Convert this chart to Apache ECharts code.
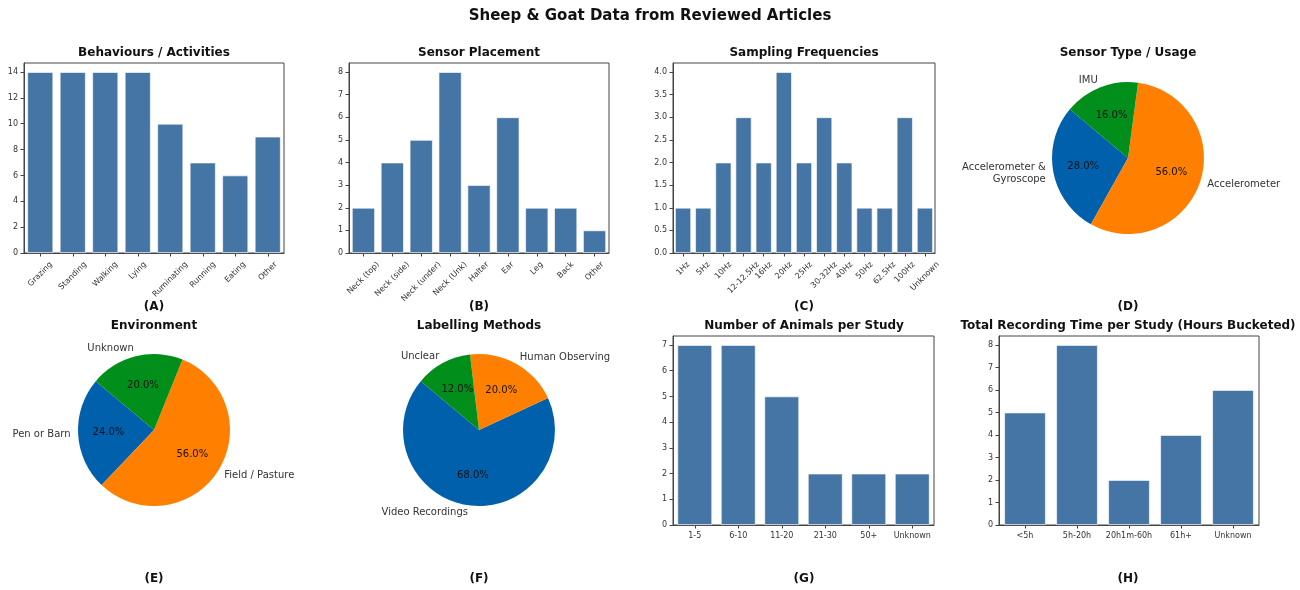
<!DOCTYPE html>
<html>
<head>
<meta charset="utf-8">
<title>Sheep &amp; Goat Data from Reviewed Articles</title>
<script src="https://cdn.jsdelivr.net/npm/echarts@6/dist/echarts.min.js"></script>
<style>
  html, body { margin: 0; padding: 0; background: #fff; }
  #chart { width: 1300px; height: 590px; }
</style>
</head>
<body>
<div id="chart"></div>
<script>
// ---- data ----
const behaviourCats = ['Grazing', 'Standing', 'Walking', 'Lying', 'Ruminating', 'Running', 'Eating', 'Other'];
const behaviourVals = [14, 14, 14, 14, 10, 7, 6, 9];
const behaviourTicks = [0, 2, 4, 6, 8, 10, 12, 14];

const placementCats = ['Neck (top)', 'Neck (side)', 'Neck (under)', 'Neck (Unk)', 'Halter', 'Ear', 'Leg', 'Back', 'Other'];
const placementVals = [2, 4, 5, 8, 3, 6, 2, 2, 1];
const placementTicks = [0, 1, 2, 3, 4, 5, 6, 7, 8];

const freqCats = ['1Hz', '5Hz', '10Hz', '12-12.5Hz', '16Hz', '20Hz', '25Hz', '30-32Hz', '40Hz', '50Hz', '62.5Hz', '100Hz', 'Unknown'];
const freqVals = [1, 1, 2, 3, 2, 4, 2, 3, 2, 1, 1, 3, 1];
const freqTicks = [0, 0.5, 1, 1.5, 2, 2.5, 3, 3.5, 4];

const sensorNames = ['Accelerometer &\nGyroscope', 'Accelerometer', 'IMU'];
const sensorVals = [7, 14, 4];

const envNames = ['Pen or Barn', 'Field / Pasture', 'Unknown'];
const envVals = [6, 14, 5];

const labelNames = ['Video Recordings', 'Human Observing', 'Unclear'];
const labelVals = [17, 5, 3];

const animalCats = ['1-5', '6-10', '11-20', '21-30', '50+', 'Unknown'];
const animalVals = [7, 7, 5, 2, 2, 2];
const animalTicks = [0, 1, 2, 3, 4, 5, 6, 7];

const timeCats = ['<5h', '5h-20h', '20h1m-60h', '61h+', 'Unknown'];
const timeVals = [5, 8, 2, 4, 6];
const timeTicks = [0, 1, 2, 3, 4, 5, 6, 7, 8];

// ---- styles ----
const FONT = 'DejaVu Sans';
const TICK_FONT_SIZE = 8;
const BAR = '#4575a5';
const PIE_COLORS = ['#0060ac', '#ff8000', '#018e1a'];
const AXIS_COLOR = '#444';
const TICK_TEXT = '#333';
const LABEL_GAP = 7;

const chart = echarts.init(document.getElementById('chart'), null, { renderer: 'canvas' });

// bar panels: grid box in px
const barPanels = [
  { cats: behaviourCats, vals: behaviourVals, ticks: behaviourTicks, max: 14.7, box: [24, 63, 284, 253], rotate: 45, dec: 0 },
  { cats: placementCats, vals: placementVals, ticks: placementTicks, max: 8.4, box: [349, 63, 609, 253], rotate: 45, dec: 0 },
  { cats: freqCats, vals: freqVals, ticks: freqTicks, max: 4.2, box: [673, 63, 935, 253], rotate: 45, dec: 1 },
  { cats: animalCats, vals: animalVals, ticks: animalTicks, max: 7.35, box: [673, 336, 934, 525], rotate: 0, dec: 0 },
  { cats: timeCats, vals: timeVals, ticks: timeTicks, max: 8.4, box: [999, 336, 1259, 525], rotate: 0, dec: 0 }
];

const grids = [], xAxes = [], yAxes = [], series = [];
barPanels.forEach((p, i) => {
  const [x1, y1, x2, y2] = p.box;
  const rotated = p.rotate !== 0;
  grids.push({
    left: x1, top: y1, width: x2 - x1, height: y2 - y1,
    outerBoundsMode: 'none', containLabel: false,
    show: true, borderColor: AXIS_COLOR, borderWidth: 1, backgroundColor: 'transparent'
  });
  xAxes.push({
    type: 'category', gridIndex: i, data: p.cats, boundaryGap: true,
    axisLine: { show: true, lineStyle: { color: AXIS_COLOR, width: 1 } },
    axisTick: { show: true, alignWithLabel: true, length: 3.5, lineStyle: { color: AXIS_COLOR } },
    // rotated labels are drawn separately (centred under each tick)
    axisLabel: { show: !rotated, interval: 0, fontFamily: FONT, fontSize: TICK_FONT_SIZE, color: TICK_TEXT, margin: LABEL_GAP },
    splitLine: { show: false }
  });
  yAxes.push({
    type: 'value', gridIndex: i, min: 0, max: p.max,
    axisLine: { show: true, lineStyle: { color: AXIS_COLOR, width: 1 } },
    axisTick: { show: true, length: 3.5, lineStyle: { color: AXIS_COLOR }, customValues: p.ticks },
    axisLabel: {
      fontFamily: FONT, fontSize: TICK_FONT_SIZE, color: TICK_TEXT, margin: 6,
      customValues: p.ticks,
      formatter: v => Number(v).toFixed(p.dec)
    },
    splitLine: { show: false }
  });
  series.push({
    type: 'bar', xAxisIndex: i, yAxisIndex: i, data: p.vals,
    barCategoryGap: '20%', silent: true,
    itemStyle: { color: BAR, borderColor: 'rgba(255,255,255,0.8)', borderWidth: 0.8 }
  });
});

// pie panels
const R = 76;
const piePanels = [
  { names: sensorNames, vals: sensorVals, center: [1128, 158] },
  { names: envNames, vals: envVals, center: [154, 430] },
  { names: labelNames, vals: labelVals, center: [479, 430] }
];

piePanels.forEach(p => {
  const data = p.names.map((n, k) => ({ name: n, value: p.vals[k], itemStyle: { color: PIE_COLORS[k] } }));
  // wedges with category names just outside the rim
  series.push({
    type: 'pie', center: p.center, radius: [0, R], startAngle: 140, clockwise: false,
    avoidLabelOverlap: false, silent: true, animation: false,
    data: data,
    label: {
      show: true, position: 'outside', formatter: '{b}',
      fontFamily: FONT, fontSize: 10, color: '#333', lineHeight: 12,
      distanceToLabelLine: 0
    },
    labelLine: { show: false, length: R * 0.1, length2: 0 },
    itemStyle: { borderWidth: 0 }
  });
  // transparent ring carrying the percentage labels
  series.push({
    type: 'pie', center: p.center, radius: [R * 0.2 - 6, R], startAngle: 140, clockwise: false,
    avoidLabelOverlap: false, silent: true, animation: false, z: 3,
    data: p.names.map((n, k) => ({ name: n, value: p.vals[k] })),
    itemStyle: { color: 'transparent', borderWidth: 0 },
    label: {
      show: true, position: 'inside',
      formatter: prm => prm.percent.toFixed(1) + '%',
      fontFamily: FONT, fontSize: 10, color: '#111'
    },
    labelLine: { show: false }
  });
});

// titles
const titleStyle = { fontFamily: FONT, fontSize: 12, fontWeight: 'bold', color: '#111' };
const letterStyle = { fontFamily: FONT, fontSize: 12, fontWeight: 'bold', color: '#111' };
const panelTitles = [
  ['Behaviours / Activities', 154, 47], ['Sensor Placement', 479, 47],
  ['Sampling Frequencies', 804, 47], ['Sensor Type / Usage', 1128, 47],
  ['Environment', 154, 320], ['Labelling Methods', 479, 320],
  ['Number of Animals per Study', 804, 320], ['Total Recording Time per Study (Hours Bucketed)', 1128, 320]
];
const letters = [
  ['(A)', 154, 301], ['(B)', 479, 301], ['(C)', 804, 301], ['(D)', 1128, 301],
  ['(E)', 154, 573], ['(F)', 479, 573], ['(G)', 804, 573], ['(H)', 1128, 573]
];

const titles = [{
  text: 'Sheep & Goat Data from Reviewed Articles', left: 650, top: 9, textAlign: 'center', padding: 0,
  textStyle: { fontFamily: FONT, fontSize: 15, fontWeight: 'bold', color: '#111' }
}];
panelTitles.forEach(([t, x, y]) => titles.push({ text: t, left: x, top: y, textAlign: 'center', padding: 0, textStyle: titleStyle }));
letters.forEach(([t, x, y]) => titles.push({ text: t, left: x, top: y, textAlign: 'center', padding: 0, textStyle: letterStyle }));

chart.setOption({
  backgroundColor: '#fff',
  animation: false,
  title: titles,
  grid: grids,
  xAxis: xAxes,
  yAxis: yAxes,
  series: series
});

// 45° category labels: each rotated label's bounding box is centred on its
// tick and starts LABEL_GAP px below the axis line.
const measureCtx = document.createElement('canvas').getContext('2d');
measureCtx.font = TICK_FONT_SIZE + 'px "' + FONT + '"';
const rotatedLabels = [];
barPanels.forEach((p, i) => {
  if (p.rotate === 0) return;
  const a = p.rotate * Math.PI / 180;
  p.cats.forEach(cat => {
    const [px, py] = chart.convertToPixel({ xAxisIndex: i, yAxisIndex: i }, [cat, 0]);
    const w = measureCtx.measureText(cat).width;
    const fh = TICK_FONT_SIZE * 1.17;
    const boxH = w * Math.sin(a) + fh * Math.cos(a);
    rotatedLabels.push({
      type: 'text', silent: true,
      x: px, y: py + LABEL_GAP + boxH / 2, rotation: a,
      style: {
        text: cat, align: 'center', verticalAlign: 'middle',
        font: TICK_FONT_SIZE + 'px "' + FONT + '"', fill: TICK_TEXT
      }
    });
  });
});
chart.setOption({ graphic: { elements: rotatedLabels } });
</script>
</body>
</html>
